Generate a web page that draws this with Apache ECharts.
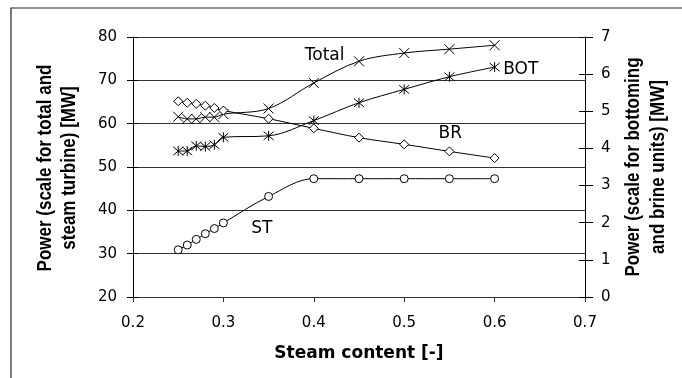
<!DOCTYPE html>
<html>
<head>
<meta charset="utf-8">
<script src="https://cdn.jsdelivr.net/npm/echarts@6/dist/echarts.min.js"></script>
<style>
  html, body { margin: 0; padding: 0; background: #fff; }
  #chart { width: 682px; height: 378px; }
</style>
</head>
<body>
<div id="chart"></div>
<script>
// steam content [-]
var steamContent = [0.25, 0.26, 0.27, 0.28, 0.29, 0.30, 0.35, 0.40, 0.45, 0.50, 0.55, 0.60];
// left axis (MW)
var totalPower = [61.6, 61.1, 61.1, 61.5, 61.5, 62.2, 63.5, 69.4, 74.4, 76.3, 77.2, 78.1];
var stPower    = [30.9, 32.0, 33.3, 34.6, 35.8, 37.1, 43.2, 47.3, 47.3, 47.3, 47.3, 47.3];
// right axis (MW)
var botPower   = [3.93, 3.93, 4.07, 4.05, 4.10, 4.30, 4.34, 4.75, 5.23, 5.59, 5.93, 6.19];
var brPower    = [5.27, 5.23, 5.20, 5.15, 5.09, 5.02, 4.80, 4.54, 4.29, 4.11, 3.92, 3.74];

var xTicks = [0.2, 0.7, 0.1];
var leftTicks = [20, 80, 10];
var rightTicks = [0, 7, 1];

function pairs(xs, ys) {
  var out = [];
  for (var i = 0; i < xs.length; i++) out.push([xs[i], ys[i]]);
  return out;
}

var crossPath = 'path://M0,0L10,10M10,0L0,10';
var starPath = 'path://M0,0L10,10M10,0L0,10M5,-1L5,11';
var txtFont = 'DejaVu Sans';

function mkSeries(name, data, axis, symbol, size, lbl) {
  return {
    name: name,
    type: 'line',
    yAxisIndex: axis,
    data: pairs(steamContent, data),
    smooth: 0.35,
    symbol: symbol,
    symbolSize: size,
    showAllSymbol: true,
    animation: false,
    lineStyle: { color: '#000', width: 1 },
    itemStyle: { color: '#fff', borderColor: '#000', borderWidth: 1 },
    markPoint: {
      symbol: 'circle',
      symbolSize: 1,
      itemStyle: { color: 'rgba(0,0,0,0)' },
      label: { show: true, position: 'inside', formatter: '{b}', color: '#000', fontSize: 17, fontFamily: txtFont },
      data: [{ name: name, coord: lbl }]
    }
  };
}

var myChart = echarts.init(document.getElementById('chart'));

var option = {
  backgroundColor: '#fff',
  grid: { left: 133, right: 97, top: 37, bottom: 81 },
  xAxis: {
    type: 'value',
    min: xTicks[0], max: xTicks[1], interval: xTicks[2],
    name: 'Steam content [-]',
    nameLocation: 'middle',
    nameGap: 48,
    nameTextStyle: { fontFamily: txtFont, fontWeight: 'bold', fontSize: 17, color: '#000' },
    axisLine: { lineStyle: { color: '#333', width: 1 } },
    axisTick: { show: true, length: 5, lineStyle: { color: '#333' } },
    axisLabel: {
      color: '#000', fontFamily: txtFont, fontSize: 15, margin: 19,
      formatter: function (v) { return v.toFixed(1); }
    },
    splitLine: { show: false }
  },
  yAxis: [
    {
      type: 'value', position: 'left',
      min: leftTicks[0], max: leftTicks[1], interval: leftTicks[2],
      axisLine: { show: true, lineStyle: { color: '#000', width: 1 } },
      axisTick: { show: true, length: 6, lineStyle: { color: '#000' } },
      axisLabel: { color: '#000', fontFamily: txtFont, fontSize: 15, margin: 16 },
      splitLine: { show: true, lineStyle: { color: '#333', width: 1 } }
    },
    {
      type: 'value', position: 'right',
      min: rightTicks[0], max: rightTicks[1], interval: rightTicks[2],
      axisLine: { show: true, lineStyle: { color: '#000', width: 1 } },
      axisTick: { show: true, length: 8, lineStyle: { color: '#000' } },
      axisLabel: { color: '#000', fontFamily: txtFont, fontSize: 15, margin: 16 },
      splitLine: { show: false }
    },
    {
      // inner half of the crossing ticks, left
      type: 'value', position: 'left',
      min: leftTicks[0], max: leftTicks[1], interval: leftTicks[2],
      axisLine: { show: false },
      axisTick: { show: true, inside: true, length: 5, lineStyle: { color: '#000' } },
      axisLabel: { show: false },
      splitLine: { show: false }
    },
    {
      // inner half of the crossing ticks, right
      type: 'value', position: 'right',
      min: rightTicks[0], max: rightTicks[1], interval: rightTicks[2],
      axisLine: { show: false },
      axisTick: { show: true, inside: true, length: 6, lineStyle: { color: '#000' } },
      axisLabel: { show: false },
      splitLine: { show: false }
    }
  ],
  graphic: [
    {
      type: 'rect', silent: true,
      shape: { x: 11, y: 8, width: 720, height: 420 },
      style: { fill: 'none', stroke: '#222', lineWidth: 1.2 }
    },
    {
      type: 'text', x: 57, y: 168, rotation: Math.PI / 2, scaleY: 1.2,
      style: {
        text: 'Power (scale for total and\nsteam turbine) [MW]',
        font: 'bold 17px "Liberation Sans"', fill: '#000',
        align: 'center', verticalAlign: 'middle', lineHeight: 20
      }
    },
    {
      type: 'text', x: 646, y: 167, rotation: Math.PI / 2, scaleY: 1.2,
      style: {
        text: 'Power (scale for bottoming\nand brine units) [MW]',
        font: 'bold 17px "Liberation Sans"', fill: '#000',
        align: 'center', verticalAlign: 'middle', lineHeight: 21
      }
    }
  ],
  series: [
    mkSeries('Total', totalPower, 0, crossPath, 10, [0.412, 75.8]),
    mkSeries('BOT', botPower, 1, starPath, 10, [0.629, 6.13]),
    mkSeries('BR', brPower, 1, 'diamond', 9, [0.551, 4.40]),
    mkSeries('ST', stPower, 0, 'circle', 8, [0.3425, 35.8])
  ]
};

myChart.setOption(option);
</script>
</body>
</html>
